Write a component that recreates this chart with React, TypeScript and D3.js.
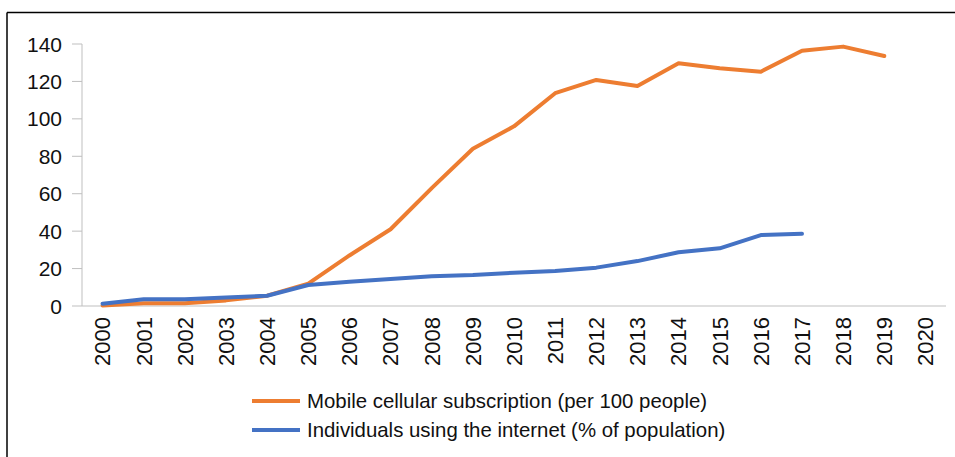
import * as d3 from "d3";

const years = d3.range(2000, 2021).map(String);
const mobile = [0.3, 1.5, 1.5, 3, 5.5, 12, 27, 41, 63, 84, 96, 113.7, 120.8, 117.6, 129.7, 127, 125.2, 136.4, 138.6, 133.6, null];
const internet = [1.2, 3.6, 3.6, 4.5, 5.5, 11.2, 13, 14.4, 15.9, 16.6, 17.8, 18.7, 20.5, 24, 28.7, 30.8, 37.9, 38.6, null, null, null];
const yTicks = [0, 20, 40, 60, 80, 100, 120, 140];

const series = [
  { name: "Mobile cellular subscription (per 100 people)", values: mobile, color: "#ED7D31" },
  { name: "Individuals using the internet (% of population)", values: internet, color: "#4472C4" },
];

const W = 955;
const H = 457;
const left = 82;
const right = 946;
const top = 44;
const bottom = 306;
const font = "Liberation Sans, Arial, sans-serif";

export default function App() {
  const x = d3.scaleBand<string>().domain(years).range([left, right]).padding(0);
  const y = d3.scaleLinear().domain([0, 140]).range([bottom, top]);
  const cx = (i: number) => x(years[i])! + x.bandwidth() / 2;

  const line = d3
    .line<number | null>()
    .defined((d) => d != null)
    .x((_, i) => cx(i))
    .y((d) => y(d as number));

  return (
    <svg
      width={W}
      height={H}
      style={{ position: "absolute", left: 0, top: 0, background: "#fff" }}
      fontFamily={font}
    >
      {/* frame, only top and left edges are visible */}
      <line x1={7} x2={W} y1={12.5} y2={12.5} stroke="#000" strokeWidth={1.5} />
      <line x1={7} x2={7} y1={12.5} y2={H} stroke="#000" strokeWidth={1.5} />

      {/* y axis */}
      <line x1={left} x2={left} y1={y(140)} y2={bottom} stroke="#BFBFBF" strokeWidth={1} />
      {yTicks.map((t) => (
        <g key={t}>
          <line x1={left - 10} x2={left} y1={y(t)} y2={y(t)} stroke="#BFBFBF" strokeWidth={1} />
          <text x={left - 20} y={y(t)} dy="0.36em" textAnchor="end" fontSize={21} fill="#111">
            {t}
          </text>
        </g>
      ))}

      {/* x axis */}
      <line x1={left} x2={right} y1={bottom} y2={bottom} stroke="#BFBFBF" strokeWidth={1} />
      {years.map((yr, i) => (
        <text
          key={yr}
          transform={`translate(${cx(i)},${bottom + 11}) rotate(-90)`}
          dy="0.36em"
          textAnchor="end"
          fontSize={22}
          fill="#111"
        >
          {yr}
        </text>
      ))}

      {series.map((s) => (
        <path
          key={s.name}
          d={line(s.values) ?? ""}
          fill="none"
          stroke={s.color}
          strokeWidth={4}
          strokeLinejoin="round"
          strokeLinecap="round"
        />
      ))}

      {/* legend */}
      {series.map((s, i) => (
        <g key={s.name} transform={`translate(252,${401 + i * 29})`}>
          <line x1={0} x2={48} y1={0} y2={0} stroke={s.color} strokeWidth={4} />
          <text x={55} y={0} dy="0.36em" fontSize={20.4} fill="#111">
            {s.name}
          </text>
        </g>
      ))}
    </svg>
  );
}
